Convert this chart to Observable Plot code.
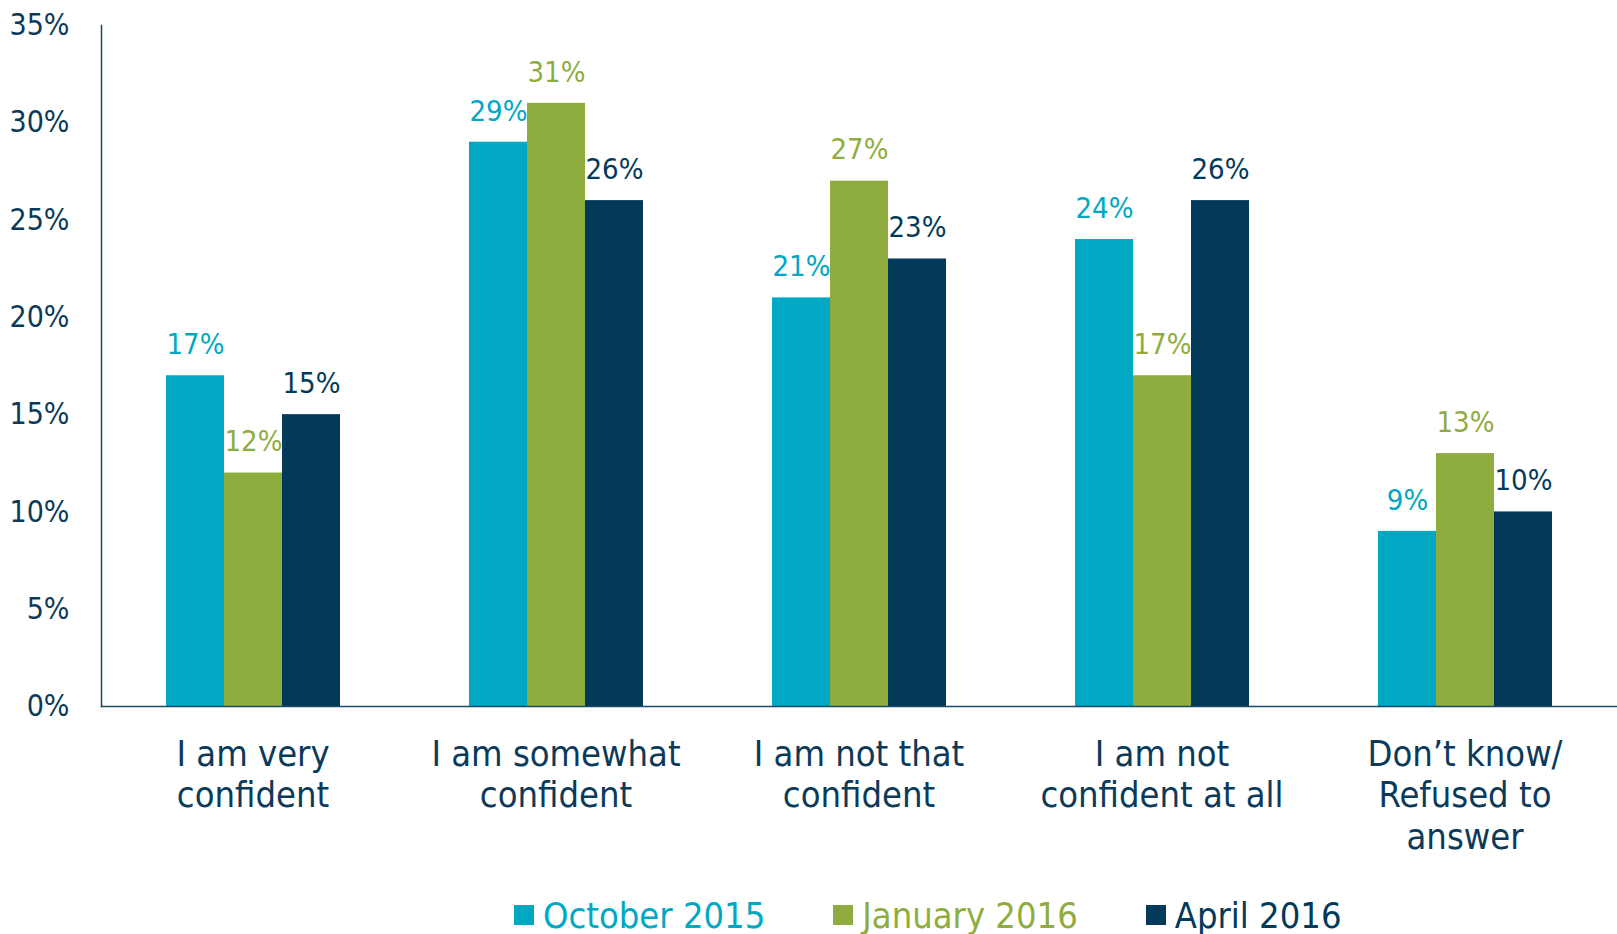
<!DOCTYPE html>
<html>
<head>
<meta charset="utf-8">
<script src="https://cdn.jsdelivr.net/npm/d3@7"></script>
<script src="https://cdn.jsdelivr.net/npm/@observablehq/plot@0.6"></script>
<style>
  html, body { margin: 0; padding: 0; background: #fff; }
  body { width: 1617px; height: 934px; overflow: hidden; font-family: "DejaVu Sans Condensed", "DejaVu Sans", sans-serif; }
  #chart svg { display: block; }
  #legend { display: flex; align-items: center; height: 54px; padding-top: 8px; padding-left: 514px; font-size: 36px; }
  .item { display: flex; align-items: center; margin-right: 68px; }
  .sw { width: 20px; height: 20px; margin-right: 9px; }
</style>
</head>
<body>
<div id="chart"></div>
<div id="legend"></div>
<script>
const categories = [
  "I am very\nconfident",
  "I am somewhat\nconfident",
  "I am not that\nconfident",
  "I am not\nconfident at all",
  "Don’t know/\nRefused to\nanswer"
];
const series = ["October 2015", "January 2016", "April 2016"];
const october2015 = [17, 29, 21, 24, 9];
const january2016 = [12, 31, 27, 17, 13];
const april2016 = [15, 26, 23, 26, 10];
const yTicks = [0, 5, 10, 15, 20, 25, 30, 35];
const colors = ["#00a8c3", "#8fad3f", "#033a5a"];
const textColor = "#0b3a5a";

const values = [october2015, january2016, april2016];
const data = [];
categories.forEach((c, i) => {
  series.forEach((s, j) => data.push({category: c, series: s, value: values[j][i]}));
});

const chart = Plot.plot({
  width: 1617,
  height: 880,
  marginLeft: 99,
  marginRight: 0,
  marginTop: 25,
  marginBottom: 174,
  style: {fontFamily: "'DejaVu Sans Condensed', 'DejaVu Sans', sans-serif", background: "#fff"},
  fx: {domain: categories, padding: 0, axis: null},
  x: {domain: series, paddingInner: 0, paddingOuter: 1.07, axis: null},
  y: {domain: [0, 35], axis: null},
  color: {domain: series, range: colors},
  marks: [
    Plot.barY(data, {fx: "category", x: "series", y: "value", fill: "series", inset: 0}),
    Plot.text(data, {
      fx: "category", x: "series", y: "value",
      text: d => d.value + "%", fill: "series",
      lineAnchor: "middle", dy: -31, fontSize: 29
    }),
    Plot.text(categories, {
      fx: d => d, text: d => d, frameAnchor: "bottom", lineAnchor: "top",
      dy: 30, fontSize: 36, lineHeight: 1.15, fill: textColor
    }),
    Plot.axisY({
      anchor: "left", ticks: yTicks, tickSize: 0, tickPadding: 32,
      tickFormat: d => d + "%", fontSize: 30, fill: textColor, label: null
    }),
    Plot.frame({anchor: "left", facet: "super", stroke: "#1b4a68", strokeWidth: 1.5}),
    Plot.frame({anchor: "bottom", facet: "super", stroke: "#1b4a68", strokeWidth: 1.5})
  ]
});
document.getElementById("chart").appendChild(chart);

const legend = document.getElementById("legend");
series.forEach((s, j) => {
  const item = document.createElement("div");
  item.className = "item";
  const sw = document.createElement("div");
  sw.className = "sw";
  sw.style.background = colors[j];
  const lab = document.createElement("span");
  lab.textContent = s;
  lab.style.color = colors[j];
  item.appendChild(sw);
  item.appendChild(lab);
  legend.appendChild(item);
});
</script>
</body>
</html>
